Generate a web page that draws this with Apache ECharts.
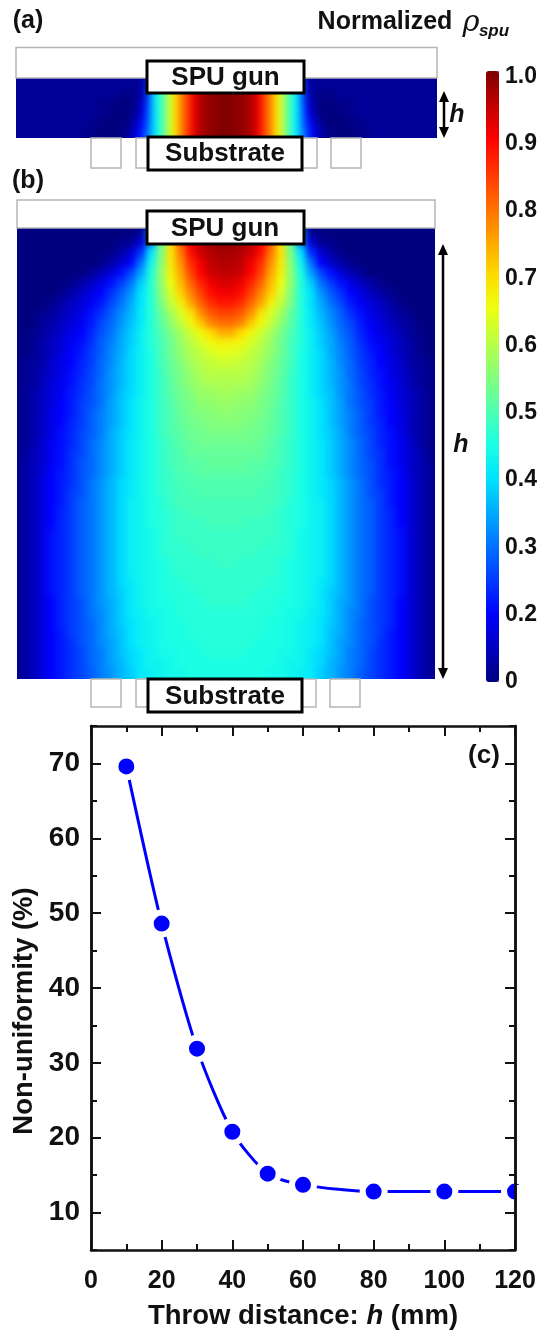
<!DOCTYPE html>
<html><head><meta charset="utf-8">
<style>html,body{margin:0;padding:0;background:#fff}#c{width:540px;height:1331px}#c canvas{filter:blur(0.5px)}#c canvas:first-child{filter:blur(3px)}</style>
<script src="https://cdn.jsdelivr.net/npm/echarts@6/dist/echarts.min.js"></script>
</head><body><div id="c"></div>
<script>
// Throw-distance curve (panel c)
const throwDistance=[10,20,30,40,50,60,80,100,120];
const nonUniformity=[69.6,48.6,31.9,20.8,15.2,13.7,12.8,12.8,12.8];
// Colour scale
const jetColors=['#00007f','#0000bf','#0000ff','#003aff','#0072ff','#00abff','#00e4ff','#1bffe4','#4fffb0','#84ff7b','#b9ff46','#edff12','#ffdb00','#ffa500','#ff6e00','#ff3700','#ff0000','#c00000','#7f0000'];
const colorbarTicks=[0.1,0.2,0.3,0.4,0.5,0.6,0.7,0.8,0.9,1.0];
const colorbarLabels=['0','0.2','0.3','0.4','0.5','0.6','0.7','0.8','0.9','1.0'];
const xMajorTicks=[0,20,40,60,80,100,120];
const yMajorTicks=[10,20,30,40,50,60,70];
const yMinorTicks=[5,15,25,35,45,55,65,75];
// Panel (a): normalized rho x100, half-profile from centre outward, top row first, columns 5 px wide
const panelAHalfRows=[
[100,99,99,98,97,95,91,85,80,74,67,59,51,45,38,25,13,12,12,12,12,12,12,12,12,12,12,12,12,12,12,12,12,12,12,12,12,12,12,12,12,12],
[100,99,99,98,97,95,91,85,80,74,67,59,51,45,38,26,14,12,11,11,11,11,12,12,12,12,12,12,12,12,12,12,12,12,12,12,12,12,12,12,12,12],
[100,99,99,98,97,95,91,85,80,74,67,59,51,45,38,27,17,13,11,10,10,10,11,11,11,11,12,12,12,12,12,12,12,12,12,12,12,12,12,12,12,12],
[100,99,99,98,97,95,91,85,80,74,67,59,51,45,38,28,19,14,11,10,10,10,10,11,11,11,12,12,12,12,12,12,12,12,12,12,12,12,12,12,12,12],
[100,99,99,98,97,95,91,85,80,74,67,59,51,45,38,29,22,17,13,11,10,10,10,10,10,11,11,11,12,12,12,12,12,12,12,12,12,12,12,12,12,12],
[100,99,99,98,97,95,91,85,80,74,67,59,51,45,38,31,24,19,15,12,11,10,10,10,10,10,11,11,11,12,12,12,12,12,12,12,12,12,12,12,12,12],
[100,99,99,98,97,95,91,85,80,74,67,59,51,45,38,31,24,19,15,12,11,10,10,10,10,10,11,11,11,12,12,12,12,12,12,12,12,12,12,12,12,12]
];
// Panel (b): same, columns 10 px wide, rows 10 px tall
const panelBHalfRows=[
[98,97,95,91,82,69,52,32,12,10,10,10,10,10,10,10,10,10,10,10,10],
[98,97,95,91,82,69,52,32,17,12,11,10,10,10,10,10,10,10,10,10,10],
[97,96,94,89,79,69,54,40,24,17,13,11,10,10,10,10,10,10,10,10,10],
[96,95,91,86,77,68,55,43,30,20,16,13,11,10,10,10,10,10,10,10,10],
[95,94,90,84,75,67,56,45,34,26,21,17,14,12,10,10,10,10,10,10,10],
[93,91,87,81,73,65,56,46,38,30,25,21,18,15,13,11,10,10,10,10,10],
[91,89,84,78,71,63,55,46,40,33,28,24,20,18,15,13,11,10,10,10,10],
[88,86,81,75,67,61,54,46,40,35,30,26,22,19,17,15,13,11,10,10,10],
[84,82,77,69,63,58,52,46,41,36,32,28,24,21,18,16,14,12,11,10,10],
[80,78,72,66,61,56,51,46,41,37,33,29,26,22,19,17,15,13,12,10,10],
[74,70,66,62,58,54,50,46,42,38,34,30,27,23,20,18,16,14,12,11,10],
[67,66,63,60,57,53,49,46,42,38,35,31,28,24,21,19,17,15,13,11,10],
[64,63,61,59,56,53,49,45,42,39,35,32,28,25,22,20,17,15,13,11,10],
[62,61,60,58,55,52,49,45,42,39,36,32,29,25,23,20,18,16,13,12,11],
[60,60,59,57,54,52,48,45,42,39,36,33,29,26,23,21,18,16,14,12,11],
[59,59,58,56,54,51,48,45,42,39,36,33,30,26,24,21,19,17,14,12,11],
[58,57,57,55,53,51,48,45,42,39,37,33,30,27,24,22,19,17,15,13,11],
[57,56,56,54,53,50,48,45,43,40,37,34,30,27,25,22,20,17,15,13,11],
[56,55,55,54,52,50,48,45,43,40,37,34,31,28,25,22,20,18,15,13,11],
[55,55,54,53,52,50,48,45,43,40,37,34,31,28,25,23,20,18,15,13,11],
[54,54,53,53,51,50,48,45,43,40,38,35,31,28,26,23,21,18,15,13,11],
[53,53,53,52,51,49,47,45,43,41,38,35,32,29,26,23,21,19,16,13,11],
[52,52,52,52,50,49,47,45,43,41,38,35,32,29,26,24,21,19,16,14,11],
[52,52,51,51,50,49,47,45,43,41,38,35,32,29,27,24,21,19,16,14,12],
[51,51,51,50,50,48,47,45,43,41,38,35,32,29,27,24,22,20,16,14,12],
[50,50,50,50,49,48,47,45,43,41,39,36,33,30,27,24,22,20,17,14,12],
[50,50,50,49,49,48,47,45,43,41,39,36,33,30,27,25,22,20,17,14,12],
[49,49,49,49,49,48,46,45,43,42,39,36,33,30,28,25,22,20,17,14,12],
[49,49,49,49,48,47,46,45,43,42,39,36,33,30,28,25,23,20,17,14,12],
[49,49,48,48,48,47,46,45,43,42,39,36,33,30,28,25,23,20,17,14,12],
[48,48,48,48,48,47,46,44,43,42,39,36,33,30,28,25,23,21,17,14,12],
[48,48,48,48,47,47,46,44,43,42,39,36,33,30,28,25,23,21,17,14,12],
[48,48,48,47,47,47,46,44,43,42,39,36,33,30,28,25,23,21,17,14,12],
[48,47,47,47,47,46,45,44,43,42,39,36,33,30,28,25,23,21,17,14,12],
[47,47,47,47,47,46,45,44,43,42,39,36,33,30,28,25,23,21,17,14,12],
[47,47,47,47,46,46,45,44,43,41,39,36,33,30,28,25,23,21,17,14,12],
[47,47,47,46,46,46,45,44,43,41,38,36,33,30,28,25,23,21,17,14,12],
[47,47,46,46,46,45,45,44,43,41,38,35,33,30,27,25,23,20,17,14,12],
[46,46,46,46,46,45,44,44,42,41,38,35,32,30,27,25,23,20,17,14,12],
[46,46,46,46,45,45,44,43,42,40,38,35,32,29,27,25,23,20,17,14,12],
[46,46,46,46,45,45,44,43,42,40,37,35,32,29,27,25,22,20,17,14,12],
[46,46,46,45,45,45,44,43,42,40,37,34,32,29,27,24,22,20,17,14,12],
[46,46,45,45,45,44,44,43,41,39,37,34,31,29,26,24,22,20,17,14,12],
[45,45,45,45,45,44,43,43,41,39,36,34,31,29,26,24,22,20,17,14,12],
[45,45,45,45,44,44,43,42,41,38,36,33,31,28,26,24,22,20,17,14,12],
[45,45,45,45,44,44,43,42,41,38,36,33,31,28,26,24,22,20,17,14,12],
[45,45,45,45,44,44,43,42,41,38,36,33,31,28,26,24,22,20,17,14,12]
];

function cells(halfRows){
  const out=[];const nR=halfRows.length;
  halfRows.forEach((row,r)=>{
    const full=row.slice().reverse().concat(row);
    full.forEach((v,c)=>out.push([c,nR-1-r,v/100]));
  });
  return out;
}
function idx(n){return Array.from({length:n},(_,i)=>i);}

const INK='#111';
const FF='"Liberation Sans",Arial,sans-serif';
const GRAY='#b5b5b5';
function txt(text,x,y,size,opt){return Object.assign({type:'text',zlevel:1,z:60,style:Object.assign({text,x,y,fill:INK,font:`bold ${size}px ${FF}`,textAlign:'center',textVerticalAlign:'middle'},(opt&&opt.style)||{})},opt&&opt.el||{});}
function box(x,y,w,h,stroke,lw,z){return {type:'rect',zlevel:1,z:z,shape:{x,y,width:w,height:h},style:{fill:stroke==='#000'?'#fff':'none',stroke,lineWidth:lw}};}
function mask(x,y,w,h){return {type:'rect',zlevel:1,z:-1,shape:{x,y,width:w,height:h},style:{fill:'#fff'}};}
function vArrow(x,y1,y2){
  const els=[{type:'line',zlevel:1,z:55,shape:{x1:x,y1:y1+6,x2:x,y2:y2-6},style:{stroke:'#000',lineWidth:2.5}}];
  els.push({type:'polygon',zlevel:1,z:55,shape:{points:[[x,y2],[x-5,y2-11],[x+5,y2-11]]},style:{fill:'#000'}});
  els.push({type:'polygon',zlevel:1,z:55,shape:{points:[[x,y1],[x-5,y1+11],[x+5,y1+11]]},style:{fill:'#000'}});
  return els;
}
const graphics=[
  mask(0,0,540,78), mask(0,138,540,90), mask(0,679,540,652), mask(0,0,16,1331), mask(437,0,103,1331),
  mask(0,228,17,451), mask(435,228,10,451),
  txt('(a)',28,21,25),
  txt('(b)',28,181,25),
  txt('Normalized',385,22,25),
  txt('\u03c1',471,23,29,{style:{font:`italic 29px "DejaVu Serif",serif`}}),
  txt('spu',494,31,16,{style:{font:`italic bold 17px ${FF}`}}),
  box(16,47.5,421,30.5,GRAY,1.5,50),
  box(91,138,30,30,GRAY,1.5,50), box(136,138,30,30,GRAY,1.5,50),
  box(287,138,30,30,GRAY,1.5,50), box(331,138,30,30,GRAY,1.5,50),
  box(147,61,157,32,'#000',3,52),
  txt('SPU gun',225.5,78,26),
  box(148,137,154,33,'#000',3,52),
  txt('Substrate',225,154,26),
  box(17,200,418,28,GRAY,1.5,50),
  box(91,679,30,28,GRAY,1.5,50), box(136,679,30,28,GRAY,1.5,50),
  box(286,679,30,28,GRAY,1.5,50), box(330,679,30,28,GRAY,1.5,50),
  box(147,211,157,33,'#000',3,52),
  txt('SPU gun',225,229,26),
  box(148,679,154,33,'#000',3,52),
  txt('Substrate',225,697,26),
  ...vArrow(444,91,138),
  ...vArrow(443,244,679),
  txt('h',457,115,25,{style:{font:`italic bold 25px ${FF}`}}),
  txt('h',461,445,25,{style:{font:`italic bold 25px ${FF}`}}),
  txt('(c)',484,756,26),
  {type:'rect',zlevel:1,z:8,shape:{x:516.5,y:1185,width:20,height:25},style:{fill:'#fff'}}
];
const axisCommon={zlevel:1,axisLine:{show:true,onZero:false,lineStyle:{color:INK,width:2.5}},splitLine:{show:false}};
const option={
  animation:false,backgroundColor:'#00008c',textStyle:{fontFamily:FF},
  graphic:{elements:graphics},
  visualMap:{type:'continuous',zlevel:1,min:0.1,max:1,seriesIndex:[0,1],left:486,top:71,itemWidth:13,itemHeight:611,padding:0,calculable:false,hoverLink:false,inRange:{color:jetColors},textStyle:{color:'transparent'}},
  grid:[
    {left:16,top:78,width:420,height:70},
    {left:16,top:228,width:420,height:470},
    {left:91,top:726,width:424,height:531},
    {left:486,top:71,width:13,height:611}
  ],
  xAxis:[
    {gridIndex:0,type:'category',show:false,data:idx(84)},
    {gridIndex:1,type:'category',show:false,data:idx(42)},
    Object.assign({gridIndex:2,type:'value',min:0,max:120,interval:20,position:'bottom',name:'Throw distance: {i|h} (mm)',nameLocation:'middle',nameGap:52,
      nameTextStyle:{fontSize:27.5,fontWeight:'bold',color:INK,rich:{i:{fontSize:27.5,fontWeight:'bold',fontStyle:'italic',color:INK}}},
      axisTick:{inside:true,length:10,lineStyle:{color:INK,width:2}},minorTick:{show:true,splitNumber:2,length:6,lineStyle:{color:INK,width:2}},
      axisLabel:{fontSize:25,fontWeight:'bold',color:INK,margin:19,customValues:xMajorTicks}},axisCommon),
    Object.assign({gridIndex:2,type:'value',min:0,max:120,interval:20,position:'top',
      axisTick:{inside:true,length:10,lineStyle:{color:INK,width:2}},minorTick:{show:true,splitNumber:2,length:6,lineStyle:{color:INK,width:2}},axisLabel:{show:false}},axisCommon),
    {gridIndex:3,type:'category',show:false,data:[0]}
  ],
  yAxis:[
    {gridIndex:0,type:'category',show:false,data:idx(7)},
    {gridIndex:1,type:'category',show:false,data:idx(47)},
    Object.assign({gridIndex:2,type:'value',min:5,max:75,position:'left',name:'Non-uniformity (%)',nameLocation:'middle',nameGap:47,nameRotate:90,
      nameTextStyle:{fontSize:27.5,fontWeight:'bold',color:INK,padding:[0,46,0,0]},
      axisTick:{inside:true,length:10,customValues:yMajorTicks,lineStyle:{color:INK,width:2}},
      axisLabel:{fontSize:28,fontWeight:'bold',color:INK,margin:11,customValues:yMajorTicks}},axisCommon),
    Object.assign({gridIndex:2,type:'value',min:5,max:75,position:'left',axisTick:{inside:true,length:6,customValues:yMinorTicks,lineStyle:{color:INK,width:2}},axisLabel:{show:false}},axisCommon),
    Object.assign({gridIndex:2,type:'value',min:5,max:75,position:'right',axisTick:{inside:true,length:10,customValues:yMajorTicks,lineStyle:{color:INK,width:2}},axisLabel:{show:false}},axisCommon,{z:20}),
    Object.assign({gridIndex:2,type:'value',min:5,max:75,position:'right',axisTick:{inside:true,length:6,customValues:yMinorTicks,lineStyle:{color:INK,width:2}},axisLabel:{show:false}},axisCommon,{z:20}),
    {gridIndex:3,zlevel:1,type:'value',min:0.1,max:1.008,position:'right',
      axisLine:{show:true,onZero:false,lineStyle:{color:'#999',width:1}},splitLine:{show:false},
      axisTick:{inside:true,length:4,customValues:colorbarTicks,lineStyle:{color:'#555',width:1}},
      axisLabel:{fontSize:23,fontWeight:'bold',color:INK,margin:7,customValues:colorbarTicks,
        formatter:v=>colorbarLabels[colorbarTicks.findIndex(t=>Math.abs(t-v)<1e-6)]}}
  ],
  series:[
    {type:'heatmap',zlevel:0,xAxisIndex:0,yAxisIndex:0,data:cells(panelAHalfRows),progressive:0,emphasis:{disabled:true},silent:true},
    {type:'heatmap',zlevel:0,xAxisIndex:1,yAxisIndex:1,data:cells(panelBHalfRows),progressive:0,emphasis:{disabled:true},silent:true},
    {type:'line',zlevel:1,xAxisIndex:2,yAxisIndex:2,data:throwDistance.map((x,i)=>[x,nonUniformity[i]]),smooth:0.25,clip:false,z:3,
      lineStyle:{color:'#0000ff',width:3},symbol:'circle',symbolSize:22,showSymbol:true,
      itemStyle:{color:'#0000ff',borderColor:'#fff',borderWidth:6}},
    {type:'line',zlevel:1,xAxisIndex:4,yAxisIndex:6,data:[],silent:true}
  ]
};
const chart=echarts.init(document.getElementById('c'),null,{renderer:'canvas',width:540,height:1331});
chart.setOption(option);
</script></body></html>
